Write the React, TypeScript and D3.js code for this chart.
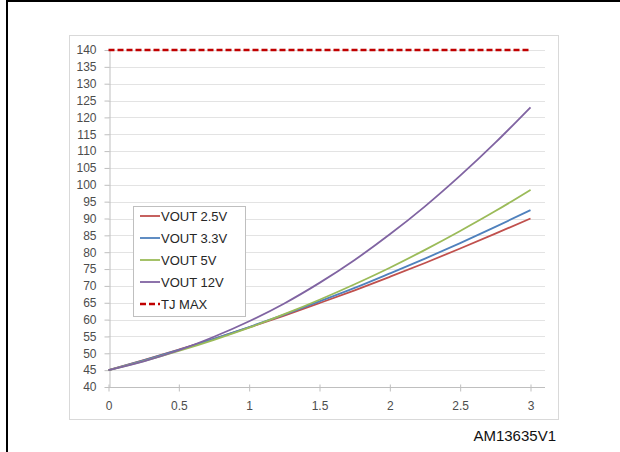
import React, { useEffect, useRef } from 'react';
import * as d3 from 'd3';

// Output current (A) sample points
const current = [0, 0.25, 0.5, 0.75, 1, 1.25, 1.5, 1.75, 2, 2.25, 2.5, 2.75, 3];

// Junction temperature (°C)
const vout25 = [45, 48.0, 51.1, 54.3, 57.7, 61.2, 64.9, 68.7, 72.7, 76.8, 81.1, 85.5, 90];
const vout33 = [45, 47.9, 51.0, 54.3, 57.8, 61.5, 65.4, 69.4, 73.7, 78.1, 82.7, 87.5, 92.5];
const vout5 = [45, 47.7, 50.7, 54.0, 57.6, 61.6, 65.9, 70.5, 75.4, 80.7, 86.3, 92.2, 98.5];
const vout12 = [45, 47.6, 50.9, 54.9, 59.5, 64.8, 70.9, 77.7, 85.3, 93.6, 102.7, 112.5, 123];
const tjMaxX = [0, 3];
const tjMax = [140, 140];

const seriesNames = ['VOUT 2.5V', 'VOUT 3.3V', 'VOUT 5V', 'VOUT 12V', 'TJ MAX'];
const seriesColors = ['#c0504d', '#4f81bd', '#9bbb59', '#8064a2', '#c00000'];

const yTicks = d3.range(40, 141, 5);
const xTicks = [0, 0.5, 1, 1.5, 2, 2.5, 3];
const xTickLabels = ['0', '0.5', '1', '1.5', '2', '2.5', '3'];

const W = 620;
const H = 452;

const App: React.FC = () => {
  const svgRef = useRef<SVGSVGElement>(null);

  useEffect(() => {
    document.body.style.margin = '0';
    if (!svgRef.current) return;
    const svg = d3.select(svgRef.current);
    svg.selectAll('*').remove();

    const font = 'Arial, "Liberation Sans", sans-serif';
    const x = d3.scaleLinear().domain([0, 3]).range([108.5, 530.5]);
    const y = d3.scaleLinear().domain([40, 140]).range([387, 50]);
    const plotRight = 545;

    svg.append('rect').attr('width', W).attr('height', H).attr('fill', '#fff');

    // outer frame (top + left rules)
    svg.append('line').attr('x1', 7).attr('x2', W).attr('y1', 1).attr('y2', 1)
      .attr('stroke', '#000').attr('stroke-width', 2);
    svg.append('line').attr('x1', 7).attr('x2', 7).attr('y1', 0).attr('y2', H)
      .attr('stroke', '#000').attr('stroke-width', 2);

    // chart area border
    svg.append('rect').attr('x', 69.5).attr('y', 35.5).attr('width', 489).attr('height', 384)
      .attr('fill', 'none').attr('stroke', '#d9d9d9');

    // horizontal gridlines
    svg.append('g').selectAll('line')
      .data(yTicks.filter(t => t !== 40))
      .join('line')
      .attr('x1', x(0)).attr('x2', plotRight)
      .attr('y1', d => Math.round(y(d)) + 0.5).attr('y2', d => Math.round(y(d)) + 0.5)
      .attr('stroke', '#e3e3e3');

    // Y axis
    const yAxis = svg.append('g')
      .attr('transform', `translate(${Math.round(x(0)) + 0.5},0)`)
      .call(d3.axisLeft(y).tickValues(yTicks).tickSize(5).tickSizeOuter(0).tickPadding(8));
    yAxis.select('.domain').attr('stroke', '#bfbfbf');
    yAxis.selectAll('line').attr('stroke', '#bfbfbf');
    yAxis.selectAll('text').style('font-family', font).style('font-size', '12px').attr('fill', '#4d4d4d');

    // X axis
    svg.append('line')
      .attr('x1', x(0)).attr('x2', plotRight)
      .attr('y1', Math.round(y(40)) + 0.5).attr('y2', Math.round(y(40)) + 0.5)
      .attr('stroke', '#bfbfbf');
    const xAxis = svg.append('g')
      .attr('transform', `translate(0,${Math.round(y(40)) + 0.5})`)
      .call(d3.axisBottom(x).tickValues(xTicks).tickFormat((_, i) => xTickLabels[i])
        .tickSize(4).tickSizeOuter(0).tickPadding(10));
    xAxis.select('.domain').remove();
    xAxis.selectAll('.tick line').attr('y1', -3).attr('stroke', '#bfbfbf');
    xAxis.selectAll('text').style('font-family', font).style('font-size', '12px').attr('fill', '#4d4d4d');

    // curves
    const series = [vout25, vout33, vout5, vout12];
    const line = d3.line<number>()
      .x((_, i) => x(current[i]))
      .y(d => y(d))
      .curve(d3.curveMonotoneX);
    series.forEach((s, k) => {
      svg.append('path').datum(s).attr('d', line)
        .attr('fill', 'none').attr('stroke', seriesColors[k]).attr('stroke-width', 1.8);
    });

    // TJ MAX
    const tjLine = d3.line<number>().x((_, i) => x(tjMaxX[i])).y(d => y(d));
    svg.append('path').datum(tjMax).attr('d', tjLine)
      .attr('fill', 'none').attr('stroke', seriesColors[4]).attr('stroke-width', 2.6)
      .attr('stroke-dasharray', '6,3');

    // legend
    const lg = svg.append('g');
    lg.append('rect').attr('x', 133.5).attr('y', 206.5).attr('width', 112).attr('height', 110)
      .attr('fill', '#fff').attr('stroke', '#bfbfbf');
    seriesNames.forEach((name, i) => {
      const cy = 216 + i * 22;
      lg.append('line').attr('x1', 140).attr('x2', 160).attr('y1', cy).attr('y2', cy)
        .attr('stroke', seriesColors[i])
        .attr('stroke-width', i === 4 ? 2.6 : 1.8)
        .attr('stroke-dasharray', i === 4 ? '6,3' : null);
      lg.append('text').attr('x', 161).attr('y', cy).attr('dy', '0.35em')
        .style('font-family', font).style('font-size', '13px').attr('fill', '#262626')
        .text(name);
    });

    // figure code
    svg.append('text').attr('x', 556).attr('y', 441).attr('text-anchor', 'end')
      .style('font-family', font).style('font-size', '15px').attr('fill', '#111')
      .text('AM13635V1');
  }, []);

  return (
    <div style={{ position: 'absolute', left: 0, top: 0, width: W, height: H }}>
      <svg ref={svgRef} width={W} height={H} />
    </div>
  );
};

export default App;
